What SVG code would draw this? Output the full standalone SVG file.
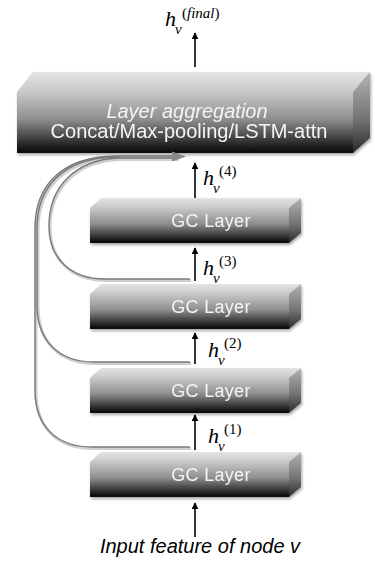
<svg xmlns="http://www.w3.org/2000/svg" width="375" height="565" viewBox="0 0 375 565">
<defs>
<linearGradient id="front" x1="0" y1="0" x2="0" y2="1">
<stop offset="0" stop-color="#c8c8c8"/>
<stop offset="0.45" stop-color="#8e8e8e"/>
<stop offset="0.8" stop-color="#363636"/>
<stop offset="1" stop-color="#050505"/>
</linearGradient>
<linearGradient id="topf" x1="0" y1="0" x2="0" y2="1">
<stop offset="0" stop-color="#e4e4e4"/>
<stop offset="1" stop-color="#c8c8c8"/>
</linearGradient>
<linearGradient id="side" x1="0" y1="0" x2="0" y2="1">
<stop offset="0" stop-color="#b4b4b4"/>
<stop offset="0.6" stop-color="#707070"/>
<stop offset="1" stop-color="#2a2a2a"/>
</linearGradient>
<filter id="shadow" x="-10%" y="-20%" width="120%" height="150%">
<feDropShadow dx="1" dy="2" stdDeviation="1.5" flood-color="#000" flood-opacity="0.35"/>
</filter>
<marker id="ah" viewBox="0 0 10 10" refX="9" refY="5" markerWidth="7" markerHeight="7" markerUnits="userSpaceOnUse" orient="auto">
<path d="M0,0 L10,5 L0,10 z" fill="#000"/>
</marker>
</defs>
<style>
.front{fill:url(#front)}
.topf{fill:url(#topf)}
.side{fill:url(#side)}
.lbl{font-family:"Liberation Sans",Arial,sans-serif;fill:#f4f4f4;text-anchor:middle}
.gc{font-size:18px;letter-spacing:0.3px}
.arr{stroke:#000;stroke-width:1.6;fill:none;marker-end:url(#ah)}
.skip{fill:none;stroke:#7a7a7a;stroke-width:1.4}
.skipsh{fill:none;stroke:#cfcfcf;stroke-width:3}
.m{font-family:"Liberation Serif","Times New Roman",serif;fill:#000}
.h{font-size:22px;font-style:italic}
.sub{font-size:15px;font-style:italic}
.sup{font-size:15px}
.cap{font-family:"Liberation Sans",Arial,sans-serif;fill:#000;font-style:italic;text-anchor:middle}
</style>

<g id="aggregation" filter="url(#shadow)">
<polygon class="topf" points="17,92 33,72 370,72 353,92"/>
<polygon class="side" points="353,92 370,72 370,138 353,153"/>
<rect class="front" x="17" y="92" width="336" height="61"/>
<text class="lbl" x="187" y="118" font-size="20" font-style="italic">Layer aggregation</text>
<text class="lbl" x="189" y="138" font-size="20">Concat/Max-pooling/LSTM-attn</text>
</g>

<g id="gc4" filter="url(#shadow)">
<polygon class="topf" points="90,208 101,198 301,198 289,208"/>
<polygon class="side" points="289,208 301,198 301,233 289,243"/>
<rect class="front" x="90" y="208" width="199" height="35"/>
<text class="lbl gc" x="211" y="227">GC Layer</text>
</g>
<g id="gc3" filter="url(#shadow)">
<polygon class="topf" points="90,294 101,284 301,284 289,294"/>
<polygon class="side" points="289,294 301,284 301,319 289,329"/>
<rect class="front" x="90" y="294" width="199" height="35"/>
<text class="lbl gc" x="211" y="313">GC Layer</text>
</g>
<g id="gc2" filter="url(#shadow)">
<polygon class="topf" points="90,378 101,368 301,368 289,378"/>
<polygon class="side" points="289,378 301,368 301,403 289,413"/>
<rect class="front" x="90" y="378" width="199" height="35"/>
<text class="lbl gc" x="211" y="397">GC Layer</text>
</g>
<g id="gc1" filter="url(#shadow)">
<polygon class="topf" points="90,462 101,452 301,452 289,462"/>
<polygon class="side" points="289,462 301,452 301,487 289,497"/>
<rect class="front" x="90" y="462" width="199" height="35"/>
<text class="lbl gc" x="211" y="481">GC Layer</text>
</g>

<g id="connectors">
<g transform="translate(1,1.5)">
<path class="skipsh" d="M190 447 H92 C55 447 35 425 35 390 V228 C35 185 62 157 115 156 H178"/>
<path class="skipsh" d="M190 362 H94 C58 362 37 340 37 305 V228 C37 186 64 158 115 157 H178"/>
<path class="skipsh" d="M190 279 H105 C70 279 49 258 49 226 C49 186 76 160 118 158 H178"/>
</g>
<path class="skip" d="M190 447 H92 C55 447 35 425 35 390 V228 C35 185 62 157 115 156 H178"/>
<path class="skip" d="M190 362 H94 C58 362 37 340 37 305 V228 C37 186 64 158 115 157 H178"/>
<path class="skip" d="M190 279 H105 C70 279 49 258 49 226 C49 186 76 160 118 158 H178"/>
<path d="M120 157 H176" stroke="#8a8a8a" stroke-width="4" fill="none"/>
<polygon points="172,151.5 186,156.5 172,161.5" fill="#8a8a8a"/>

<line class="arr" x1="195" y1="67" x2="195" y2="33"/>
<line class="arr" x1="195" y1="198" x2="195" y2="163"/>
<line class="arr" x1="195" y1="281" x2="195" y2="248"/>
<line class="arr" x1="195" y1="364" x2="195" y2="333"/>
<line class="arr" x1="195" y1="450" x2="195" y2="415"/>
<line class="arr" x1="195" y1="537" x2="195" y2="503"/>
</g>

<g id="labels">
<text class="m h" x="165" y="26">h</text>
<text class="m sub" x="175" y="34">v</text>
<text class="m sup" x="182" y="18">(<tspan font-style="italic">final</tspan>)</text>

<text class="m h" x="203" y="185">h</text>
<text class="m sub" x="213" y="193">v</text>
<text class="m sup" x="219" y="176">(4)</text>

<text class="m h" x="203" y="275">h</text>
<text class="m sub" x="213" y="283">v</text>
<text class="m sup" x="219" y="266">(3)</text>

<text class="m h" x="208" y="357">h</text>
<text class="m sub" x="218" y="365">v</text>
<text class="m sup" x="224" y="348">(2)</text>

<text class="m h" x="208" y="443">h</text>
<text class="m sub" x="218" y="451">v</text>
<text class="m sup" x="224" y="434">(1)</text>

<text class="cap" x="200" y="553" font-size="20">Input feature of node v</text>
</g>
</svg>
